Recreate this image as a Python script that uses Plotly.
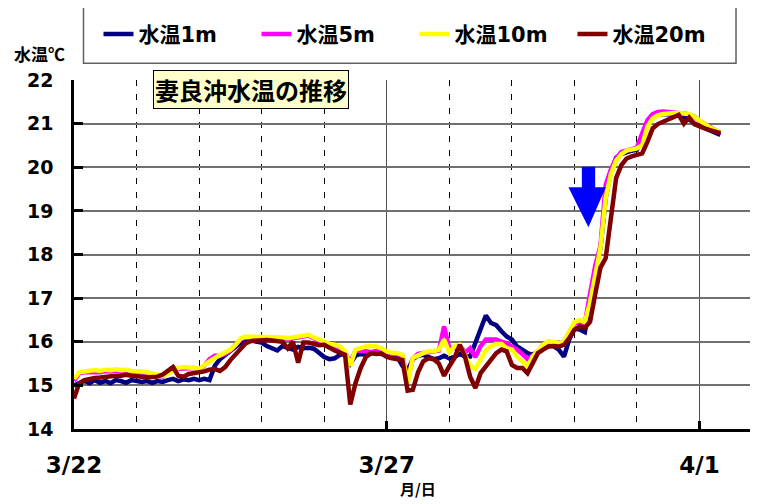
import pandas as pd
import plotly.graph_objects as go

# ---- data: 2-hourly water temperature from 2010-03-22 00:00 ----
start_time = "2010-03-22 00:00"
step = "2h"

temp_1m = [
    15.0, 15.06, 15.1, 15.05, 15.12, 15.06, 15.1, 15.05, 15.12, 15.1, 15.06, 15.12,      # 3/22
    15.1, 15.08, 15.1, 15.06, 15.1, 15.08, 15.12, 15.15, 15.1, 15.14, 15.12, 15.15,     # 3/23
    15.12, 15.15, 15.12, 15.45, 15.6, 15.7, 15.8, 15.9, 15.98, 16.05, 16.03, 16.0,      # 3/24
    15.98, 15.9, 15.85, 15.8, 15.9, 15.85, 15.82, 15.88, 15.85, 15.86, 15.84, 15.75,    # 3/25
    15.65, 15.6, 15.62, 15.7, 15.72, 15.5, 15.68, 15.72, 15.7, 15.74, 15.72, 15.72,     # 3/26
    15.72, 15.7, 15.66, 15.45, 15.35, 15.6, 15.68, 15.7, 15.65, 15.6, 15.62, 15.68,     # 3/27
    15.62, 15.65, 15.72, 15.66, 15.66, 15.97, 16.24, 16.6, 16.43, 16.38, 16.24, 16.12,  # 3/28
    16.05, 15.89, 15.82, 15.74, 15.7, 15.78, 15.85, 15.9, 15.9, 15.82, 15.66, 16.05,    # 3/29
    16.3, 16.28, 16.22, 16.9, 17.65, 18.15, 19.3, 19.9, 20.22, 20.3, 20.35, 20.38,      # 3/30
    20.4, 20.7, 21.0, 21.15, 21.2, 21.22, 21.22, 21.22, 21.2, 21.15, 21.1, 21.0,        # 3/31
    20.95, 20.89, 20.84, 20.78, 20.74,                                                  # 4/1
]
temp_5m = [
    15.1, 15.28, 15.3, 15.3, 15.32, 15.3, 15.33, 15.32, 15.34, 15.32, 15.33, 15.3,
    15.3, 15.3, 15.27, 15.25, 15.22, 15.2, 15.3, 15.38, 15.38, 15.38, 15.4, 15.4,
    15.36, 15.45, 15.6, 15.68, 15.68, 15.72, 15.8, 15.92, 16.06, 16.1, 16.1, 16.08,
    16.08, 16.1, 16.08, 16.1, 16.08, 16.06, 16.08, 16.1, 16.12, 16.14, 16.08, 16.02,
    15.95, 15.92, 15.9, 15.86, 15.76, 15.52, 15.8, 15.8, 15.78, 15.76, 15.78, 15.82,
    15.76, 15.72, 15.72, 15.68, 15.1, 15.62, 15.72, 15.74, 15.76, 15.76, 15.8, 16.35,
    15.85, 15.85, 15.92, 15.75, 15.85, 15.65, 15.9, 16.05, 16.05, 16.05, 16.0, 15.97,
    15.89, 15.82, 15.72, 15.6, 15.68, 15.78, 15.93, 16.0, 15.97, 15.97, 15.99, 16.22,
    16.42, 16.45, 16.42, 17.1, 17.75, 18.2, 19.6, 19.95, 20.2, 20.35, 20.38, 20.4,
    20.45, 20.78, 21.08, 21.22, 21.27, 21.28, 21.27, 21.25, 21.24, 21.23, 21.2, 21.16,
    21.07, 20.99, 20.91, 20.85, 20.8,
]
temp_10m = [
    15.15, 15.3, 15.32, 15.33, 15.35, 15.33, 15.36, 15.35, 15.37, 15.35, 15.36, 15.33,
    15.33, 15.32, 15.3, 15.28, 15.24, 15.22, 15.27, 15.35, 15.4, 15.42, 15.42, 15.4,
    15.38, 15.45, 15.55, 15.63, 15.7, 15.75, 15.82, 15.93, 16.08, 16.12, 16.12, 16.1,
    16.1, 16.12, 16.1, 16.12, 16.1, 16.08, 16.1, 16.12, 16.14, 16.16, 16.1, 16.05,
    15.98, 15.95, 15.93, 15.89, 15.78, 15.45, 15.82, 15.86, 15.89, 15.9, 15.89, 15.85,
    15.78, 15.75, 15.74, 15.7, 15.05, 15.63, 15.7, 15.74, 15.78, 15.78, 15.82, 16.05,
    15.75, 15.9, 15.93, 15.7, 15.45, 15.38, 15.6, 15.8, 15.9, 15.95, 15.95, 15.85,
    15.82, 15.66, 15.55, 15.44, 15.66, 15.78, 15.93, 16.01, 15.99, 15.97, 16.0, 16.24,
    16.45, 16.5, 16.45, 16.9, 17.6, 18.15, 19.3, 19.85, 20.15, 20.3, 20.38, 20.4,
    20.43, 20.51, 20.93, 21.12, 21.19, 21.22, 21.23, 21.25, 21.25, 21.23, 21.22, 21.16,
    21.07, 20.99, 20.91, 20.85, 20.8,
]
temp_20m = [
    14.7, 15.05, 15.12, 15.15, 15.17, 15.18, 15.2, 15.2, 15.22, 15.22, 15.24, 15.22,
    15.22, 15.2, 15.18, 15.18, 15.2, 15.25, 15.35, 15.42, 15.22, 15.2, 15.26, 15.28,
    15.28, 15.32, 15.36, 15.38, 15.33, 15.42, 15.58, 15.7, 15.85, 15.97, 16.02, 16.03,
    16.03, 16.04, 16.03, 16.02, 16.0, 15.85, 16.0, 15.52, 15.98, 15.98, 15.96, 15.92,
    15.93, 15.86, 15.8, 15.75, 15.7, 14.56, 15.05, 15.4, 15.65, 15.74, 15.72, 15.73,
    15.65, 15.62, 15.6, 15.58, 14.88, 14.9, 15.3, 15.55, 15.62, 15.6, 15.5, 15.22,
    15.44, 15.63, 15.93, 15.66, 15.2, 14.94, 15.28, 15.44, 15.59, 15.74, 15.82, 15.78,
    15.47, 15.4, 15.4, 15.28, 15.51, 15.74, 15.82, 15.89, 15.9, 15.89, 15.93, 16.08,
    16.28, 16.35, 16.32, 16.46, 17.1, 17.7, 17.92, 18.8, 19.75, 20.05, 20.2, 20.25,
    20.28, 20.32, 20.58, 20.89, 20.99, 21.04, 21.1, 21.14, 21.2, 21.0, 21.14, 20.99,
    20.93, 20.89, 20.85, 20.81, 20.78,
]

series_names = ["水温1m", "水温5m", "水温10m", "水温20m"]
series_colors = ["#000080", "#FF00FF", "#FFFF00", "#800000"]
tick_dates = ["2010-03-22", "2010-03-27", "2010-04-01"]
tick_labels = ["3/22", "3/27", "4/1"]

times = pd.date_range(start_time, periods=len(temp_1m), freq=step)

NUM_FONT = "DejaVu Sans, Noto Sans CJK JP, sans-serif"
CJK_FONT = "Noto Sans CJK JP, DejaVu Sans, sans-serif"

# figure sits at an 8px page offset
FIG_W, FIG_H = 758, 504
PL, PT, PB = 73.5, 79.8, 429.4          # plot area edges in screen pixels
PW = 8 + FIG_W - PL                      # right margin 0
PH = PB - PT


def px(x):
    return (x - PL) / PW


def py(y):
    return (PB - y) / PH


fig = go.Figure()
for name, vals, col in zip(series_names, [temp_1m, temp_5m, temp_10m, temp_20m], series_colors):
    fig.add_trace(go.Scatter(x=times, y=vals, mode="lines", name=name,
                             line=dict(color=col, width=4.5)))

fig.update_layout(
    width=FIG_W, height=FIG_H,
    margin=dict(l=PL - 8, r=0, t=PT - 8, b=FIG_H + 8 - PB, autoexpand=False),
    paper_bgcolor="white", plot_bgcolor="white",
    showlegend=True,
    legend=dict(orientation="h", x=px(98), xanchor="left", y=py(34), yanchor="middle",
                font=dict(family=NUM_FONT, size=21, color="black", weight="bold"),
                entrywidth=113, entrywidthmode="pixels",
                bgcolor="rgba(0,0,0,0)", borderwidth=0),
    xaxis=dict(type="date", range=["2010-03-22 00:00", "2010-04-02 01:30"],
               tickvals=tick_dates, ticktext=tick_labels,
               showgrid=True, gridcolor="#505050", gridwidth=1,
               showline=True, linecolor="black", linewidth=2.5,
               ticks="inside", ticklen=8, tickwidth=2.5, tickcolor="black",
               tickfont=dict(family=NUM_FONT, size=23, color="black", weight="bold"),
               ticklabelstandoff=14,
               minor=dict(dtick=86400000, tick0="2010-03-22", showgrid=True,
                          griddash="6px,8px", gridcolor="black", gridwidth=1, ticks=""),
               zeroline=False),
    yaxis=dict(range=[14, 22], dtick=1, tick0=14,
               showgrid=True, gridcolor="#707070", gridwidth=1.5,
               showline=True, linecolor="black", linewidth=2.5,
               ticks="inside", ticklen=9, tickwidth=2.5, tickcolor="black",
               tickfont=dict(family=NUM_FONT, size=19, color="black", weight="bold"),
               ticklabelstandoff=14, zeroline=False),
)

# legend frame
fig.add_shape(type="rect", xref="paper", yref="paper",
              x0=px(83), x1=px(736), y0=py(63), y1=py(5),
              line=dict(color="#606060", width=1.5), fillcolor="rgba(0,0,0,0)")

# blue downward arrow
arrow_pts = [(581.7, 166.7), (595, 166.7), (595, 187.3), (605.7, 187.3),
             (588.3, 227.3), (568.3, 187.3), (581.7, 187.3)]
path = "M" + " L".join(f"{px(a):.4f},{py(b):.4f}" for a, b in arrow_pts) + " Z"
fig.add_shape(type="path", xref="paper", yref="paper", path=path,
              fillcolor="#0000FF", line=dict(width=0))

# chart title box
fig.add_annotation(xref="paper", yref="paper", x=px(251), y=py(89),
                   xanchor="center", yanchor="middle",
                   text="妻良沖水温の推移", showarrow=False,
                   font=dict(family=CJK_FONT, size=24, color="black", weight="bold"),
                   bgcolor="#FFFFCC", bordercolor="black", borderwidth=1, borderpad=1)

# axis titles
fig.add_annotation(xref="paper", yref="paper", x=px(39), y=py(53),
                   xanchor="center", yanchor="middle",
                   text="水温℃", showarrow=False,
                   font=dict(family=CJK_FONT, size=17, color="black", weight="bold"))
fig.add_annotation(xref="paper", yref="paper", x=px(418), y=py(489),
                   xanchor="center", yanchor="middle",
                   text="月/日", showarrow=False,
                   font=dict(family=CJK_FONT, size=15, color="black", weight="bold"))

fig.write_html("out.html", config={"displayModeBar": False})
